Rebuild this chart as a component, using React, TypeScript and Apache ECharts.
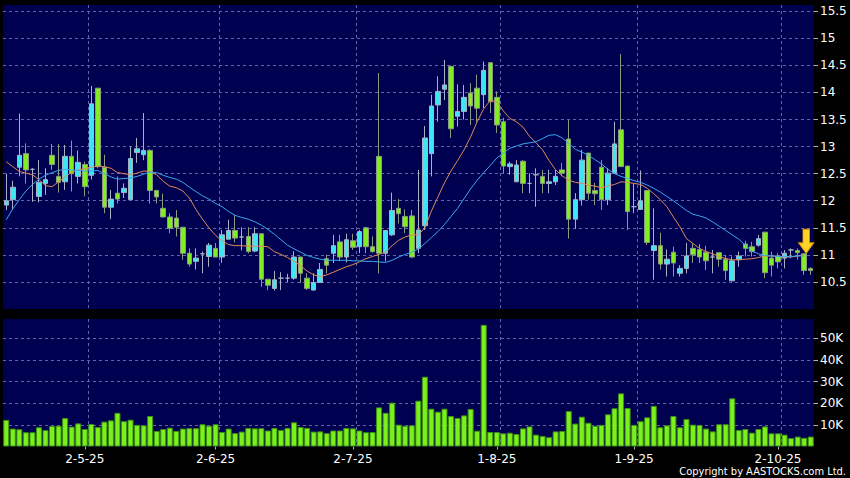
import React, { useEffect, useRef } from "react";
import * as echarts from "echarts";

// Trading days (2025), per month
const aprDays = [11, 14, 15, 16, 17, 22, 23, 24, 25, 28, 29, 30];
const mayDays = [2, 6, 7, 8, 9, 12, 13, 14, 15, 16, 19, 20, 21, 22, 23, 26, 27, 28, 29, 30];
const junDays = [2, 3, 4, 5, 6, 9, 10, 11, 12, 13, 16, 17, 18, 19, 20, 23, 24, 25, 26, 27, 30];
const julDays = [2, 3, 4, 7, 8, 9, 10, 11, 14, 15, 16, 17, 18, 21, 22, 23, 24, 25, 28, 29, 30, 31];
const augDays = [1, 4, 5, 6, 7, 8, 11, 12, 13, 14, 15, 18, 19, 20, 21, 22, 25, 26, 27, 28, 29];
const sepDays = [1, 2, 3, 4, 5, 8, 9, 10, 11, 12, 15, 16, 17, 18, 19, 22, 23, 24, 25, 26, 29, 30];
const octDays = [2, 3, 6, 8, 9, 10];
const monthDays: Array<[number, number[]]> = [
  [4, aprDays], [5, mayDays], [6, junDays], [7, julDays], [8, augDays], [9, sepDays], [10, octDays],
];
const categories: string[] = monthDays.flatMap(([m, ds]) => ds.map((d) => `${d}-${m}-25`));

const opens = [
  11.92, 12.02, 12.62, 12.87, 12.58, 12.08, 12.32, 12.84, 12.45, 12.35,
  12.82, 12.45, 12.67, 12.47, 14.08, 12.62, 11.88, 12.14, 12.15, 12.02,
  12.89, 12.85, 12.93, 12.19, 11.86, 11.70, 11.68, 11.51, 11.03, 10.88,
  11.02, 10.97, 11.12, 10.96, 11.29, 11.45, 11.33, 11.34, 11.07, 11.39,
  10.55, 10.38, 10.57, 10.57, 10.57, 10.96, 10.57, 10.35, 10.49, 10.93,
  11.03, 11.24, 10.96, 11.26, 11.15, 11.50, 11.15, 12.82, 11.03, 11.37,
  11.86, 11.71, 11.72, 11.12, 11.54, 12.87, 13.77, 14.06, 14.48, 13.56,
  13.65, 13.99, 14.08, 13.96, 14.55, 13.91, 13.46, 12.63, 12.35, 12.73,
  12.32, 12.48, 12.45, 12.32, 12.35, 12.57, 13.14, 11.66, 12.02, 12.88,
  12.19, 12.62, 12.02, 12.51, 13.31, 12.64, 11.89, 11.84, 12.19, 11.08,
  11.17, 10.83, 11.05, 10.66, 10.75, 11.12, 11.10, 11.05, 10.96, 11.04,
  10.92, 10.52, 10.91, 11.20, 11.15, 11.18, 11.42, 10.94, 10.98, 10.94,
  11.09, 11.08, 11.02, 10.75,
];
const closes = [
  12.00, 12.25, 12.84, 12.57, 12.58, 12.34, 12.39, 12.67, 12.34, 12.82,
  12.50, 12.71, 12.26, 13.79, 12.63, 11.88, 12.03, 12.03, 12.23, 12.78,
  12.96, 12.93, 12.19, 12.07, 11.70, 11.49, 11.51, 11.03, 10.83, 10.94,
  11.02, 11.18, 10.96, 11.37, 11.45, 11.31, 11.33, 11.06, 11.39, 10.55,
  10.44, 10.54, 10.57, 10.57, 10.96, 10.66, 10.38, 10.49, 10.73, 10.81,
  11.17, 10.96, 11.28, 11.14, 11.43, 11.15, 11.06, 11.03, 11.45, 11.82,
  11.76, 11.52, 10.96, 11.46, 13.16, 13.75, 14.02, 14.14, 13.33, 13.65,
  13.91, 13.75, 13.71, 14.41, 13.83, 13.40, 12.64, 12.68, 12.66, 12.32,
  12.32, 12.48, 12.32, 12.35, 12.45, 12.51, 11.66, 12.02, 12.75, 12.14,
  12.13, 12.02, 12.51, 13.05, 12.63, 11.80, 11.89, 12.00, 11.23, 11.17,
  10.83, 10.92, 10.85, 10.75, 10.98, 11.00, 10.96, 10.89, 10.96, 10.92,
  10.71, 10.89, 10.98, 11.12, 11.06, 11.30, 10.67, 10.81, 10.87, 11.03,
  11.09, 11.04, 10.71, 10.71,
];
const lows = [
  11.83, 11.83, 12.45, 12.32, 11.98, 11.97, 12.11, 12.57, 12.15, 12.20,
  12.17, 12.32, 12.08, 12.39, 12.60, 11.77, 11.66, 11.95, 12.05, 12.02,
  12.70, 12.75, 11.95, 11.95, 11.70, 11.40, 11.34, 10.91, 10.78, 10.73,
  10.66, 10.78, 10.96, 10.85, 11.29, 11.23, 11.08, 11.03, 11.05, 10.41,
  10.35, 10.34, 10.35, 10.50, 10.54, 10.48, 10.35, 10.34, 10.48, 10.66,
  10.85, 10.88, 10.86, 11.09, 11.03, 11.03, 11.04, 10.66, 10.88, 11.35,
  11.58, 11.40, 10.94, 11.03, 11.46, 12.45, 13.46, 13.86, 13.16, 13.37,
  13.50, 13.40, 13.46, 13.71, 13.62, 13.25, 12.51, 12.48, 12.35, 12.14,
  12.14, 11.89, 12.14, 12.14, 12.29, 12.45, 11.30, 11.48, 11.91, 12.02,
  11.92, 11.83, 11.92, 12.50, 12.63, 11.46, 11.77, 11.83, 11.18, 10.54,
  10.73, 10.60, 10.60, 10.60, 10.66, 10.85, 10.85, 10.72, 10.66, 10.78,
  10.54, 10.51, 10.78, 10.97, 10.97, 11.15, 10.57, 10.60, 10.75, 10.75,
  10.94, 10.91, 10.63, 10.63,
];
const highs = [
  12.50, 12.37, 13.61, 13.06, 12.60, 12.75, 12.60, 13.05, 13.05, 13.03,
  13.11, 12.93, 12.72, 14.12, 14.08, 12.85, 12.20, 12.45, 12.32, 13.00,
  13.16, 13.62, 12.95, 12.20, 12.13, 11.77, 11.83, 11.51, 11.12, 11.12,
  11.06, 11.22, 11.22, 11.46, 11.65, 11.74, 11.51, 11.51, 11.51, 11.39,
  10.55, 10.70, 10.68, 10.65, 11.07, 10.97, 10.66, 10.66, 10.85, 11.00,
  11.37, 11.37, 11.39, 11.39, 11.46, 11.52, 11.34, 14.36, 11.46, 12.15,
  12.03, 11.84, 11.83, 12.57, 13.38, 13.96, 14.30, 14.60, 14.50, 14.15,
  14.14, 14.17, 14.33, 14.57, 14.56, 14.02, 13.53, 12.72, 12.75, 12.75,
  12.51, 12.60, 12.57, 12.57, 12.57, 12.70, 13.49, 12.14, 12.94, 12.88,
  12.33, 12.75, 12.60, 13.46, 14.71, 12.65, 12.32, 12.56, 12.20, 11.86,
  11.41, 11.10, 11.15, 10.81, 11.22, 11.22, 11.20, 11.17, 11.09, 11.04,
  11.00, 10.97, 11.06, 11.26, 11.24, 11.37, 11.42, 11.06, 11.03, 11.09,
  11.12, 11.12, 11.02, 10.77,
];

// short moving average (orange) and long moving average (blue)
const maShort = [
  12.72, 12.63, 12.54, 12.51, 12.48, 12.39, 12.28, 12.26, 12.35, 12.44,
  12.53, 12.57, 12.59, 12.62, 12.64, 12.63, 12.60, 12.52, 12.50, 12.48,
  12.51, 12.55, 12.54, 12.48, 12.36, 12.27, 12.24, 12.18, 12.05, 11.84,
  11.66, 11.50, 11.36, 11.26, 11.19, 11.17, 11.17, 11.16, 11.16, 11.16,
  11.15, 11.06, 11.01, 10.95, 10.88, 10.80, 10.70, 10.63, 10.60, 10.63,
  10.68, 10.73, 10.78, 10.82, 10.87, 10.93, 10.97, 11.01, 11.05, 11.17,
  11.27, 11.33, 11.37, 11.37, 11.50, 11.81, 12.07, 12.33, 12.55, 12.74,
  12.94, 13.18, 13.46, 13.70, 13.85, 13.83, 13.66, 13.52, 13.46, 13.36,
  13.19, 13.07, 12.94, 12.74, 12.57, 12.46, 12.38, 12.34, 12.32, 12.29,
  12.27, 12.24, 12.27, 12.30, 12.35, 12.34, 12.32, 12.30, 12.23, 12.13,
  12.02, 11.89, 11.70, 11.52, 11.30, 11.21, 11.12, 11.06, 11.02, 10.97,
  10.93, 10.91, 10.91, 10.92, 10.93, 10.95, 10.98, 10.98, 10.97, 10.96,
  10.96, 10.98, 11.00, null,
];
const maLong = [
  11.65, 11.85, 12.02, 12.18, 12.30, 12.40, 12.47, 12.52, 12.56, 12.58,
  12.57, 12.56, 12.55, 12.55, 12.56, 12.50, 12.44, 12.40, 12.41, 12.42,
  12.45, 12.49, 12.53, 12.52, 12.47, 12.43, 12.40, 12.34, 12.25, 12.17,
  12.09, 12.03, 11.95, 11.89, 11.80, 11.73, 11.69, 11.66, 11.61, 11.55,
  11.47, 11.38, 11.28, 11.18, 11.11, 11.05, 10.99, 10.95, 10.92, 10.90,
  10.90, 10.90, 10.90, 10.89, 10.89, 10.88, 10.88, 10.87, 10.86, 10.90,
  10.96, 11.01, 11.05, 11.11, 11.21, 11.32, 11.43, 11.56, 11.71, 11.86,
  12.04, 12.22, 12.38, 12.52, 12.65, 12.79, 12.88, 12.97, 13.01, 13.05,
  13.07, 13.09, 13.15, 13.21, 13.22, 13.16, 13.06, 12.95, 12.90, 12.84,
  12.76, 12.68, 12.58, 12.50, 12.45, 12.41, 12.37, 12.34, 12.29, 12.23,
  12.16, 12.08, 12.00, 11.91, 11.82, 11.75, 11.72, 11.68, 11.61, 11.53,
  11.45, 11.37, 11.29, 11.18, 11.07, 11.02, 10.99, 10.98, 10.97, 10.97,
  10.97, 10.98, 10.98, null,
];

// volume in thousands
const volumesK = [
  12.3, 8.3, 8.0, 6.6, 6.6, 8.9, 7.6, 9.5, 9.6, 13.2,
  9.2, 10.7, 8.1, 10.4, 9.0, 11.5, 12.1, 15.6, 11.7, 12.4,
  10.0, 9.8, 14.1, 7.2, 8.1, 8.7, 7.2, 8.3, 8.5, 8.5,
  10.3, 9.6, 10.3, 6.7, 8.3, 6.2, 6.9, 8.6, 8.4, 8.5,
  7.4, 8.6, 7.6, 8.6, 11.2, 9.0, 8.6, 6.9, 7.0, 6.2,
  7.4, 7.4, 8.6, 8.4, 7.4, 6.6, 6.7, 18.1, 15.6, 20.3,
  10.1, 9.6, 9.8, 21.2, 32.3, 17.5, 16.1, 17.5, 14.1, 13.2,
  14.4, 17.4, 7.3, 56.3, 6.7, 6.7, 6.1, 6.4, 5.8, 8.4,
  9.3, 5.5, 4.9, 4.3, 7.0, 7.2, 16.4, 10.6, 13.8, 11.0,
  9.6, 10.0, 14.9, 17.7, 24.6, 17.8, 10.0, 11.7, 13.5, 18.8,
  8.9, 9.8, 14.1, 8.9, 12.7, 10.1, 10.0, 8.3, 7.0, 10.3,
  10.3, 22.3, 7.6, 8.1, 6.4, 8.1, 9.3, 6.1, 6.1, 5.5,
  3.9, 4.6, 4.0, 4.6,
];

const markerIndex = 122;
const markerPrice = 11.25;

const monthOf = (i: number) => categories[i].split("-")[1];
const isMonthStart = (i: number) => i > 0 && monthOf(i) !== monthOf(i - 1);
const isGridLine = (i: number) => i > 1 && isMonthStart(i - 1);

const gridLine = { color: "#6464a4", width: 1, type: [3, 3] as number[] };
const FONT = "DejaVu Sans";

export default function App() {
  const ref = useRef<HTMLDivElement>(null);
  useEffect(() => {
    document.body.style.margin = "0";
    const chart = echarts.init(ref.current!, undefined, { renderer: "svg" });
    const candleData = categories.map((_, i) => [opens[i], closes[i], lows[i], highs[i]]);
    chart.setOption({
      animation: false,
      backgroundColor: "#000000",
      grid: [
        { left: 3, right: 36, top: 5, height: 304, show: true, backgroundColor: "#000050", borderWidth: 0 },
        { left: 3, right: 36, top: 319, height: 127.5, show: true, backgroundColor: "#000050", borderWidth: 0 },
      ],
      xAxis: [
        {
          type: "category", gridIndex: 0, data: categories, boundaryGap: true,
          axisLine: { show: false }, axisTick: { show: false }, axisLabel: { show: false },
          splitLine: { show: true, interval: (i: number) => isGridLine(i), showMaxLine: false, lineStyle: gridLine },
        },
        {
          type: "category", gridIndex: 1, data: categories, boundaryGap: true,
          axisLine: { show: false },
          axisTick: { show: true, interval: (i: number) => isMonthStart(i), alignWithLabel: true, length: 3, lineStyle: { color: "#b0b0b0" } },
          axisLabel: {
            interval: (i: number) => isMonthStart(i), color: "#ffffff", fontSize: 12, fontFamily: FONT, margin: 6,
          },
          splitLine: { show: true, interval: (i: number) => isGridLine(i), showMaxLine: false, lineStyle: gridLine },
        },
      ],
      yAxis: [
        {
          type: "value", gridIndex: 0, position: "right", min: 10, max: 15.616, interval: 0.5, scale: true,
          axisLine: { show: false },
          axisTick: { show: true, length: 4, lineStyle: { color: "#b0b0b0" } },
          axisLabel: { color: "#ffffff", fontSize: 12, fontFamily: FONT, margin: 6, showMinLabel: false, showMaxLabel: false },
          splitLine: { show: true, showMinLine: false, showMaxLine: false, lineStyle: gridLine },
        },
        {
          type: "value", gridIndex: 1, position: "right", min: 0, max: 59, interval: 10,
          axisLine: { show: false },
          axisTick: { show: true, length: 4, lineStyle: { color: "#b0b0b0" } },
          axisLabel: {
            color: "#ffffff", fontSize: 12, fontFamily: FONT, margin: 6, showMinLabel: false, showMaxLabel: false,
            formatter: (v: number) => (v === 0 ? "" : `${v}K`),
          },
          splitLine: { show: true, showMinLine: false, showMaxLine: false, lineStyle: gridLine },
        },
      ],
      series: [
        {
          type: "candlestick", xAxisIndex: 0, yAxisIndex: 0, data: candleData, barWidth: 5,
          itemStyle: {
            color: "#3ee6f2", color0: "#82ee22",
            borderColor: "#a8b0c4", borderColor0: "#8a9c80", borderColorDoji: "#a8b0c4", borderWidth: 1,
          },
          markPoint: {
            symbol: "path://M4,0L10,0L10,13L14,13L7,23L0,13L4,13Z",
            symbolSize: [15, 24], symbolKeepAspect: false, symbolOffset: [2, 0],
            itemStyle: { color: "#ffd426", borderColor: "#e09a00", borderWidth: 1 },
            label: { show: false },
            data: [{ coord: [markerIndex, markerPrice] }],
          },
        },
        {
          type: "line", xAxisIndex: 0, yAxisIndex: 0, data: maShort, symbol: "none",
          lineStyle: { color: "#e08a55", width: 1 },
        },
        {
          type: "line", xAxisIndex: 0, yAxisIndex: 0, data: maLong, symbol: "none",
          lineStyle: { color: "#3aa6f0", width: 1 },
        },
        {
          type: "bar", xAxisIndex: 1, yAxisIndex: 1, data: volumesK, barCategoryGap: "8%",
          itemStyle: { color: "#7cf01c", borderColor: "#3d8f12", borderWidth: 1 },
        },
      ],
      graphic: [
        {
          type: "text", right: 4, bottom: 1,
          style: {
            text: "Copyright by AASTOCKS.com Ltd.", fill: "#ffffff",
            font: '11px "DejaVu Sans Condensed", "Liberation Sans", sans-serif',
          },
        },
      ],
    });
    return () => chart.dispose();
  }, []);
  return <div ref={ref} style={{ width: 850, height: 478, background: "#000" }} />;
}
